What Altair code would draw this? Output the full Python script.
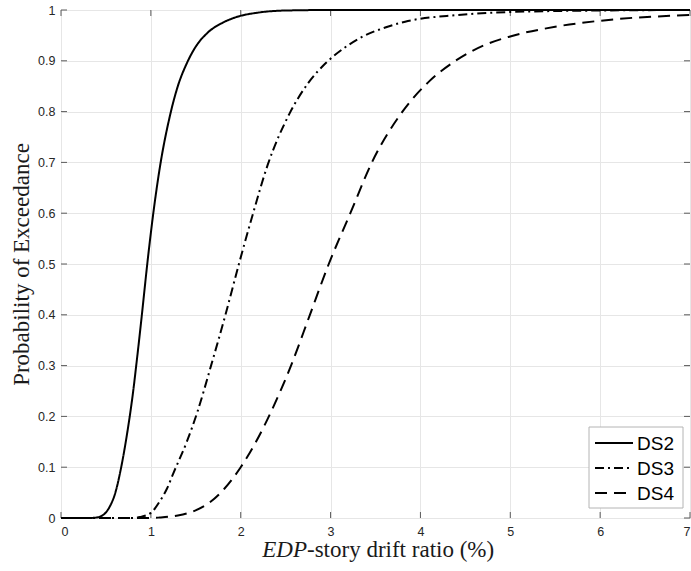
import altair as alt
import pandas as pd

# ---- data ----
series_names = ["DS2", "DS3", "DS4"]

ds2_x = [0, 0.30, 0.40, 0.45, 0.50, 0.55, 0.60, 0.67, 0.73, 0.80, 0.85, 0.90, 0.96, 1.02,
         1.10, 1.21, 1.30, 1.40, 1.50, 1.63, 1.80, 1.95, 2.20, 2.50, 3.00, 7.00]
ds2_y = [0, 0, 0.001, 0.004, 0.011, 0.025, 0.047, 0.10, 0.16, 0.245, 0.32, 0.40, 0.50, 0.59,
         0.69, 0.79, 0.85, 0.895, 0.928, 0.955, 0.975, 0.986, 0.995, 0.999, 1.0, 1.0]

ds3_x = [0, 0.80, 0.88, 1.00, 1.10, 1.18, 1.25, 1.40, 1.52, 1.67, 1.83, 1.98, 2.13, 2.30,
         2.54, 2.75, 2.95, 3.15, 3.35, 3.60, 3.83, 4.40, 5.00, 6.00, 7.00]
ds3_y = [0, 0, 0.002, 0.010, 0.033, 0.058, 0.088, 0.15, 0.21, 0.30, 0.40, 0.50, 0.595, 0.695,
         0.795, 0.856, 0.896, 0.925, 0.947, 0.965, 0.977, 0.99, 0.996, 0.999, 1.0]

ds4_x = [0, 1.00, 1.10, 1.30, 1.47, 1.65, 1.82, 2.00, 2.17, 2.34, 2.56, 2.77, 2.98, 3.22,
         3.46, 3.80, 4.10, 4.39, 4.70, 4.98, 5.50, 6.12, 7.00]
ds4_y = [0, 0, 0.001, 0.005, 0.013, 0.030, 0.058, 0.10, 0.15, 0.21, 0.30, 0.40, 0.50, 0.60,
         0.70, 0.80, 0.86, 0.90, 0.93, 0.947, 0.967, 0.981, 0.99]

x_ticks = [0, 1, 2, 3, 4, 5, 6, 7]
y_ticks = [0, 0.1, 0.2, 0.3, 0.4, 0.5, 0.6, 0.7, 0.8, 0.9, 1]

x_title_italic = "EDP"
x_title_rest = "-story drift ratio (%)"
y_title = "Probability of Exceedance"

# ---- build table ----
rows = []
for name, xs, ys in zip(series_names, [ds2_x, ds3_x, ds4_x], [ds2_y, ds3_y, ds4_y]):
    for xv, yv in zip(xs, ys):
        rows.append({"series": name, "drift": xv, "prob": yv})
df = pd.DataFrame(rows)

W, H = 629, 508
TICK = 6
SERIF = "Liberation Serif"
SANS = "Liberation Sans"
dashes = [[1, 0], [9, 4, 2, 4], [12, 7]]

x_scale = alt.Scale(domain=[0, 7], nice=False, zero=False)
y_scale = alt.Scale(domain=[0, 1], nice=False)

x_axis = alt.Axis(values=x_ticks, title=None, labelPadding=7)
y_axis = alt.Axis(values=y_ticks, format="~g", title=y_title, labelPadding=6,
                  titleX=-33, titleY=H / 2, titleAngle=270,
                  titleBaseline="alphabetic", titleAlign="center")

lines = alt.Chart(df).mark_line(color="black", strokeWidth=2, interpolate="monotone").encode(
    x=alt.X("drift:Q", scale=x_scale, axis=x_axis),
    y=alt.Y("prob:Q", scale=y_scale, axis=y_axis),
    strokeDash=alt.StrokeDash("series:N",
                              scale=alt.Scale(domain=series_names, range=dashes),
                              legend=None),
)

xt = pd.DataFrame({"v": x_ticks})
yt = pd.DataFrame({"v": y_ticks})
tick_color = "#5a5a5a"

tick_bottom = alt.Chart(xt).mark_rule(color=tick_color, strokeWidth=1).encode(
    x=alt.X("v:Q", scale=x_scale, axis=x_axis), y=alt.value(H), y2=alt.value(H - TICK))
tick_top = alt.Chart(xt).mark_rule(color=tick_color, strokeWidth=1).encode(
    x=alt.X("v:Q", scale=x_scale, axis=x_axis), y=alt.value(0), y2=alt.value(TICK))
tick_left = alt.Chart(yt).mark_rule(color=tick_color, strokeWidth=1).encode(
    y=alt.Y("v:Q", scale=y_scale, axis=y_axis), x=alt.value(0), x2=alt.value(TICK))
tick_right = alt.Chart(yt).mark_rule(color=tick_color, strokeWidth=1).encode(
    y=alt.Y("v:Q", scale=y_scale, axis=y_axis), x=alt.value(W), x2=alt.value(W - TICK))

title_df = pd.DataFrame({"a": [x_title_italic], "b": [x_title_rest]})
t_italic = alt.Chart(title_df).mark_text(
    font=SERIF, fontSize=23, fontStyle="italic", align="right", baseline="alphabetic",
    color="#1a1a1a").encode(text="a:N", x=alt.value(246), y=alt.value(H + 39))
t_rest = alt.Chart(title_df).mark_text(
    font=SERIF, fontSize=23, align="left", baseline="alphabetic",
    color="#1a1a1a").encode(text="b:N", x=alt.value(246), y=alt.value(H + 39))

# ---- legend (drawn by hand, top-left corner at 528,417 inside the plot) ----
leg_df = pd.DataFrame({"series": series_names})
LX, LY, LW, LH, ROW = 528, 417, 94, 81, 25
legend_layers = [
    alt.Chart(leg_df.head(1)).mark_rect(fill="white", stroke="#b4b4b4", strokeWidth=1).encode(
        x=alt.value(LX), x2=alt.value(LX + LW), y=alt.value(LY), y2=alt.value(LY + LH))
]
for i, name in enumerate(series_names):
    sub = leg_df[leg_df["series"] == name]
    cy = LY + 16 + ROW * i
    legend_layers.append(
        alt.Chart(sub).mark_rule(color="black", strokeWidth=2, strokeDash=dashes[i]).encode(
            x=alt.value(LX + 6), x2=alt.value(LX + 44), y=alt.value(cy)))
    legend_layers.append(
        alt.Chart(sub).mark_text(font=SANS, fontSize=19, align="left", baseline="middle",
                                 color="black").encode(
            text="series:N", x=alt.value(LX + 48), y=alt.value(cy + 1)))

chart = alt.layer(tick_bottom, tick_top, tick_left, tick_right, lines, t_italic, t_rest,
                  *legend_layers).properties(
    width=W, height=H,
    autosize=alt.AutoSizeParams(type="none"),
    padding={"left": 61, "top": 10, "right": 1, "bottom": 53},
).configure_view(
    stroke="#b8b8b8", strokeWidth=1
).configure_axis(
    grid=True, gridColor="#e6e6e6", gridWidth=1, domain=False, ticks=False,
    labelFont=SANS, labelFontSize=12.5, labelColor="#262626",
    titleFont=SERIF, titleFontSize=23, titleFontWeight="normal", titleColor="#1a1a1a",
)

chart.save("out.html", embed_options={"renderer": "svg", "actions": False})
